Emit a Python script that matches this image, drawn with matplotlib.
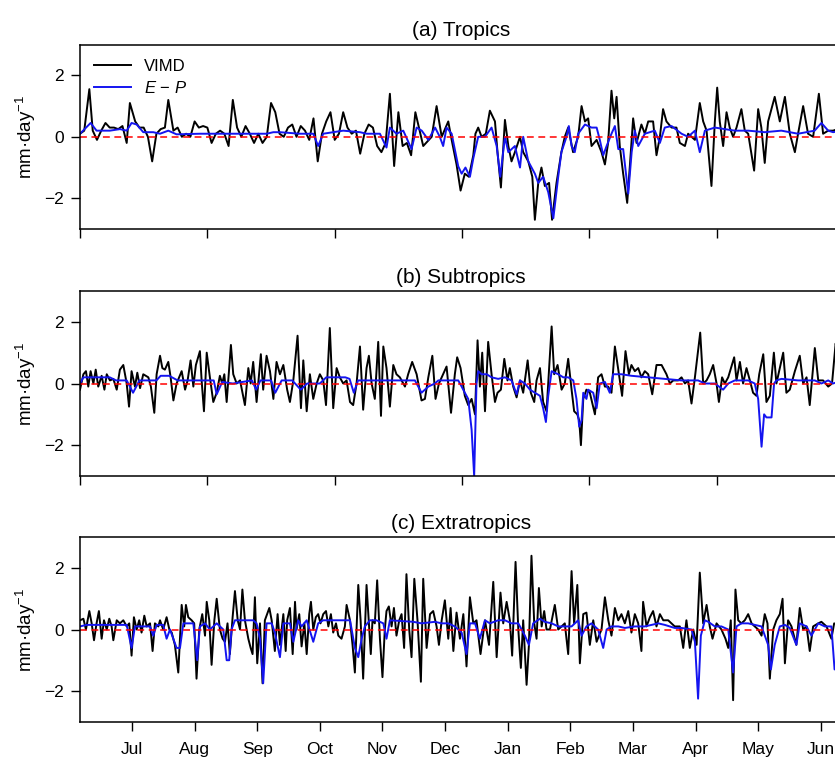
import numpy as np
import matplotlib
matplotlib.use("Agg")
import matplotlib.pyplot as plt

plt.rcParams["font.family"] = ["Liberation Sans", "DejaVu Sans"]
plt.rcParams["mathtext.fontset"] = "custom"
plt.rcParams["mathtext.rm"] = "Liberation Sans"
plt.rcParams["mathtext.it"] = "Liberation Sans:italic"

# (day, value) pairs, mm/day
trop_vimd = [
    (0, 0.1), (2, 0.2), (4.4, 1.55), (6, 0.2), (8, -0.1), (10, 0.2), (12, 0.45), (14, 0.3),
    (16, 0.3), (18, 0.25), (20, 0.35), (22, -0.2), (23.5, 1.1), (26, 0.5), (28, 0.3), (30, 0.3),
    (32, 0.0), (34, -0.8), (36, 0.1), (38, 0.25), (40, 0.3), (41.6, 1.2), (44, 0.2), (46, 0.3),
    (48, 0.0), (50, 0.1), (52, 0.0), (54, 0.5), (56, 0.3), (58, 0.35), (60, 0.3), (62, -0.2),
    (64, 0.1), (66, 0.2), (68, 0.1), (70, -0.3), (72, 1.2), (74, 0.3), (76, 0.0), (78, 0.35),
    (80, 0.1), (82, -0.2), (84, 0.1), (86, -0.2), (88, 0.0), (90, 1.1), (92, 0.8), (94, 0.1),
    (96, 0.0), (98, 0.3), (100, 0.4), (102, 0.0), (104, 0.35), (106, 0.2), (108, -0.1), (110, 0.6),
    (112, -0.8), (114, 0.1), (116, 0.5), (118, 0.8), (120, -0.1), (122, 0.1), (124, 0.8), (126, 0.3),
    (128, 0.1), (130, 0.2), (132, -0.55), (134, 0.1), (136, 0.4), (138, 0.3), (140, -0.3), (142, -0.5),
    (144, -0.2), (146, 1.4), (148, -0.95), (150, 0.8), (152, -0.3), (154, -0.2), (156, -0.6), (158, 0.8),
    (161.7, -0.3), (165.7, 0.0), (168, 1.0), (170.4, 0.0), (173.5, 0.5), (175.1, -0.1), (177.4, -0.9),
    (179.3, -1.75), (181.3, -1.2), (183.2, -1.3), (185.3, -0.6), (186.3, 0.1), (187.6, 0.3), (189.2, 0.0),
    (191.2, 0.1), (193.1, 0.85), (195.5, 0.5), (196.7, -0.5), (198.3, -1.65), (200.2, 0.55), (201.8, -0.3),
    (203.3, -0.8), (204.9, -0.5), (207.3, 0.0), (208.8, -0.5), (211.2, -0.8), (213.1, -1.3), (214.3, -2.7),
    (215.9, -1.5), (217.4, -1.0), (219, -1.6), (221, -1.5), (222.4, -2.7), (224.5, -1.5), (226.8, -0.5),
    (228.4, 0.0), (230, 0.3), (232.3, -0.5), (234.7, 0.0), (236.3, 1.0), (237.9, 0.5), (239.4, 0.6),
    (241, -0.3), (243.4, -0.1), (245.7, -0.5), (247.3, -0.9), (248.8, -0.2), (250.4, 1.5), (251.7, 0.6),
    (252.8, 1.3), (254.3, -0.3), (255.9, -1.2), (257.8, -2.15), (259, -1.0), (260.6, 0.6), (262.2, -0.2),
    (264.5, 0.4), (266.1, 0.1), (267.7, 0.5), (270, 0.5), (271.6, -0.6), (273.2, 0.0), (274.7, 0.9),
    (276.3, 0.5), (278.7, 0.3), (281, 0.3), (282.6, -0.2), (285, -0.3), (286.5, 0.1), (289.7, -0.1),
    (292, 1.1), (293.6, 0.5), (295.2, 0.2), (297.5, -1.6), (299.1, 0.5), (300.2, 1.6), (301.4, 0.5),
    (303, -0.3), (304.6, 0.8), (306.1, 0.3), (307.7, 0.0), (309.3, 0.3), (311.6, 0.9), (313.2, 0.2),
    (314.8, 0.1), (317.6, -1.1), (319.5, 0.9), (321, 0.3), (322.6, -0.85), (324.2, 0.5), (327.3, 1.3),
    (329.7, 0.5), (332.1, 1.3), (334.4, 0.1), (336.8, -0.5), (338.3, 0.1), (340.7, 1.0), (343, 0.1),
    (345.4, 0.0), (348.1, 1.4), (350.1, 0.1), (352.5, 0.2), (354.8, 0.2), (359, 0.3),
]
trop_ep = [
    (0, 0.1), (5, 0.45), (7.8, 0.2), (14.1, 0.2), (18.8, 0.25), (22, 0.2), (24.3, 0.45), (26.7, 0.4),
    (29.8, 0.15), (34.5, 0.15), (37.7, 0.1), (41.6, 0.2), (45.5, 0.08), (56.5, 0.1), (72.2, 0.1),
    (87.9, 0.1), (91.1, 0.15), (94.2, 0.15), (103.6, 0.1), (109.9, 0.1), (112.2, -0.3), (114.6, 0.1),
    (119.3, 0.15), (124, 0.2), (131.9, 0.15), (135, 0.1), (141.3, 0.1), (144.4, -0.35), (146, 0.3),
    (149.1, 0.1), (152.3, 0.2), (156.2, -0.4), (158.6, 0.3), (161, 0.2), (164.1, -0.1), (167.3, 0.3),
    (169.5, 0.0), (171.1, -0.3), (172.7, 0.3), (175.1, 0.1), (178.2, -0.96), (179.8, -1.2), (181.6, -1.0),
    (183.7, -1.3), (185.3, -0.7), (187.6, 0.0), (190.8, 0.0), (193.9, 0.3), (196.3, -0.3), (198, -1.3),
    (200.2, 0.0), (201.8, -0.5), (204.9, -0.3), (207.3, -1.0), (208.8, 0.0), (211.2, -0.8), (214.3, -1.2),
    (215.9, -1.5), (218.2, -1.3), (220.6, -1.8), (223, -2.65), (225.3, -1.3), (226.8, -0.5), (229.2, 0.0),
    (230.3, 0.35), (231.6, -0.3), (233.1, -0.5), (234.7, 0.1), (237.9, 0.4), (241, 0.3), (243.4, 0.3),
    (244.9, -0.1), (246.5, -0.6), (248.1, -0.3), (250.4, 0.1), (252, 0.35), (253.6, -0.4), (255.9, -0.4),
    (258.3, -1.85), (259.9, -0.5), (261.4, 0.2), (263, -0.3), (266.1, 0.1), (270.8, 0.2), (273.2, -0.2),
    (275.5, 0.3), (278.7, 0.35), (283.4, 0.1), (286.5, 0.0), (289.7, 0.2), (292, -0.5), (294.4, 0.2),
    (299.1, 0.3), (308.5, 0.2), (314.8, 0.2), (322.6, 0.15), (330.4, 0.2), (338.3, 0.1), (346.1, 0.2),
    (349.3, 0.45), (352.5, 0.2), (354.8, 0.15), (359, 0.2),
]

sub_vimd = [
    (0, -0.2), (1.6, 0.3), (2.8, 0.4), (3.9, -0.1), (5, 0.4), (6.3, 0.0), (7.4, 0.45), (8.6, -0.1),
    (10.2, 0.25), (11.5, -0.2), (12.6, 0.3), (14.1, 0.1), (15.7, 0.15), (17.3, -0.2), (18.8, 0.45),
    (20.4, 0.6), (22, 0.0), (23.1, -0.75), (24.3, 0.4), (25.9, -0.1), (27, 0.35), (28.3, -0.15),
    (29.8, 0.3), (32.2, 0.2), (33.4, -0.1), (35, -0.95), (36.1, 0.3), (37.7, 0.9), (38.8, 0.5),
    (40, 0.45), (41.6, 0.7), (42.7, 0.2), (44, -0.55), (45.5, 0.0), (47.9, 0.4), (49.5, -0.2),
    (50.7, 0.1), (52.1, 0.75), (53.4, -0.1), (54.6, 0.6), (56.5, 1.05), (57.3, 0.1), (58.4, -0.9),
    (59.7, 1.0), (61.2, 0.2), (62.8, -0.6), (64.4, -0.3), (65.9, 0.25), (67, 0.0), (68, 0.3),
    (69.1, -0.6), (71.1, 1.25), (72.2, 0.3), (73.8, 0.0), (75.4, 0.1), (77.7, -0.7), (79.3, 0.5),
    (80.4, 0.0), (81.6, 0.7), (83.2, -0.6), (85.2, 0.95), (86.3, -0.2), (87.9, 0.9), (89.5, 0.4),
    (91.1, -0.5), (92.6, 0.7), (94.2, 0.3), (95.8, 0.6), (97.6, -0.2), (98.9, -0.6), (100.5, 0.1),
    (102.5, 1.55), (104.1, -0.8), (105.2, 0.75), (106.8, -0.9), (108.3, 0.3), (109.9, -0.5),
    (111.5, 0.0), (113, 0.3), (114.6, 0.1), (115.9, -0.7), (117.7, 1.8), (119.3, -0.8), (120.9, 0.5),
    (122.4, 0.2), (124, 0.0), (125.6, 0.1), (127.2, -0.6), (128.7, -0.7), (130.3, 0.0), (131.9, 1.2),
    (133.4, -0.85), (135, 0.5), (136.1, 0.9), (137.4, 0.0), (138.9, -0.5), (140.5, 1.35), (141.8, -1.05),
    (142.9, 1.2), (144.4, 0.5), (146, -0.75), (147.6, 0.6), (149.1, 0.3), (150.7, 0.2), (153.1, -0.1),
    (154.6, 0.3), (156.5, 0.7), (158.6, 0.3), (160.9, -0.55), (162.5, -0.5), (164.1, 0.2), (166, 0.9),
    (167.5, -0.5), (169.1, 0.0), (170.4, 0.2), (172.7, 0.55), (174.8, -0.95), (176.6, 0.3), (177.7, 0.85),
    (179.3, 0.5), (181.3, -0.4), (182.9, -0.7), (184.5, -0.5), (186.1, -1.0), (187.3, 1.4), (188.4, -0.1),
    (189.5, 1.0), (190.8, -0.9), (192.3, 1.35), (193.9, 0.3), (195.5, -0.6), (196.7, -0.3), (198.3, -0.2),
    (199.9, 0.8), (201.4, 0.1), (202.5, 0.5), (204.1, -0.1), (205.7, -0.45), (207.3, 0.1), (208.8, -0.3),
    (210.9, 0.75), (212.4, -0.3), (214, -0.6), (215.1, 0.1), (216.7, 0.5), (218.2, -0.6), (219.8, -0.9),
    (220.6, 0.0), (222.2, 1.85), (223.4, 0.3), (225, 0.6), (226.9, -0.2), (228.4, 0.0), (230, 0.8),
    (231.6, -0.2), (232.8, -0.9), (234.3, -1.0), (235.2, -1.2), (236, -2.0), (237.1, -0.5), (238.6, -0.2),
    (240.2, -0.3), (242.6, -1.0), (244.1, 0.2), (245.7, 0.3), (247.3, -0.1), (248.8, -0.1), (250.4, -0.3),
    (252, 1.2), (253.9, 0.3), (255.4, -0.4), (257, 1.05), (258.6, 0.3), (259.8, 0.6), (261.4, 0.4),
    (263, 0.5), (264.5, 0.2), (266.1, 0.4), (267.7, 0.3), (269.6, -0.35), (271.6, 0.6), (274, 0.6),
    (276.3, 0.3), (277.9, 0.0), (279.5, 0.1), (281.8, 0.1), (283.4, 0.2), (285, 0.0), (286.5, 0.1),
    (288.1, -0.65), (289.7, 0.2), (292.2, 1.65), (293.6, 0.0), (295.2, 0.1), (296.7, 0.3), (298.3, 0.6),
    (299.9, 0.0), (301, -0.6), (302.5, 0.2), (303.8, 0.0), (305.4, 0.2), (308.2, 0.85), (309.3, 0.1),
    (310.9, 0.7), (312.4, 0.0), (314, 0.5), (315.6, 0.1), (317.1, -0.3), (318.7, -0.4), (320, 0.3),
    (321.9, 0.95), (323.4, -0.6), (325, -0.4), (326.9, 1.0), (328.1, 0.0), (329.7, 0.5), (331.3, 1.0),
    (332.8, -0.3), (334.4, -0.2), (336.8, 0.4), (339.1, 0.9), (340.7, 0.0), (342.3, 0.2), (343.8, -0.7),
    (346.2, 1.15), (347.8, 0.1), (350.1, 0.1), (352.5, -0.1), (354.3, 0.0), (356, 1.3), (359, 0.4),
]
sub_ep = [
    (0, 0.0), (1.6, 0.2), (14, 0.2), (17, 0.1), (22, 0.1), (25, -0.3), (28, 0.1), (36, 0.1),
    (38, 0.25), (42, 0.25), (46, 0.1), (63, 0.1), (64.4, -0.35), (67, 0.05), (72, 0.0), (81, 0.1),
    (83, -0.2), (85, 0.1), (90, 0.1), (92, -0.3), (95, 0.1), (100, 0.1), (104, -0.2), (107, 0.0),
    (113, 0.0), (116, 0.2), (125, 0.2), (127, 0.15), (129, -0.3), (131, 0.1), (157.8, 0.1),
    (160.9, -0.3), (164.1, -0.1), (167.2, 0.0), (168.8, 0.1), (178.2, 0.1), (179.8, -0.1), (181.3, -0.3),
    (182.9, -0.5), (184.5, -1.5), (185.7, -3.0), (186.8, 0.0), (187.6, 0.4), (189.2, 0.3), (191.6, 0.3),
    (193.9, 0.2), (197, 0.15), (200.2, 0.2), (203.3, 0.1), (205.7, -0.35), (207.3, 0.1), (209.6, 0.0),
    (212, -0.2), (214.3, -0.3), (216.7, -0.4), (218.2, -0.8), (219.5, -1.25), (220.6, -0.4), (222.2, 0.4),
    (223.7, 0.35), (225.3, 0.3), (227.7, 0.2), (230, 0.2), (232.4, 0.1), (233.9, -0.5), (235.2, -1.4),
    (236.3, -1.2), (237.1, -0.3), (238.6, -0.5), (239.4, -0.2), (241.8, -0.3), (243.4, -0.8), (244.9, 0.0),
    (247.3, 0.05), (249.6, -0.3), (251.2, 0.3), (255.1, 0.3), (259.8, 0.25), (267.7, 0.2), (275.5, 0.15),
    (283.4, 0.1), (291.2, 0.1), (294.4, 0.0), (299.1, 0.0), (303, -0.2), (305.4, 0.0), (308.5, 0.1),
    (314.8, 0.1), (317.9, 0.0), (319.5, -0.5), (321.1, -2.05), (322.3, -1.0), (323.4, -1.1), (325.8, -1.1),
    (327, 0.0), (328.1, 0.1), (330.5, 0.15), (338.3, 0.1), (346.2, 0.1), (349.3, 0.0), (352.5, 0.1),
    (354.8, 0.0), (359, 0.1),
]

extra_vimd = [
    (0, 0.3), (1.6, 0.35), (2.8, 0.0), (4.4, 0.6), (5.5, 0.2), (6.6, -0.35), (7.8, 0.2), (8.9, 0.6),
    (10.2, -0.3), (11.3, 0.3), (12.6, 0.0), (13.8, 0.35), (14.9, 0.1), (15.7, -0.35), (17.3, 0.3),
    (18.8, 0.2), (20.4, 0.3), (22, 0.1), (23.2, 0.2), (24.3, -0.85), (25.4, 0.4), (26.7, 0.0),
    (27.9, 0.3), (29, -0.1), (30.3, 0.45), (31.4, 0.1), (33, 0.2), (34.2, -0.7), (35.3, 0.2),
    (36.9, 0.1), (37.7, 0.3), (39.2, 0.0), (40.8, 0.4), (42.1, 0.0), (43.2, -0.1), (44.7, -0.5),
    (46.3, -1.4), (47.9, 0.8), (49.1, 0.1), (49.9, 0.8), (51, 0.4), (52.6, 0.3), (53.8, 0.2),
    (54.9, -1.6), (56.2, 0.0), (57.6, 0.5), (58.9, -0.2), (59.7, 0.9), (60.9, 0.3), (62, -1.15),
    (63.3, 0.3), (64.4, 1.0), (65.9, 0.0), (67.2, -0.3), (68.3, -0.4), (69.5, 0.2), (70.6, -0.8),
    (71.9, 0.4), (73, 1.25), (74.3, 0.3), (75.4, 0.0), (76.5, 1.3), (77.7, 0.3), (79.3, -0.3),
    (80.4, -0.6), (81.3, -0.8), (82.4, 1.05), (83.5, -1.1), (84.8, 0.2), (86, -1.75), (87.1, 0.3),
    (89.2, 0.7), (90.3, 0.3), (91.8, -0.7), (93.1, 0.5), (94.2, -0.5), (95.8, 0.5), (96.9, -0.7),
    (97.6, 0.3), (98.9, 0.7), (100.2, -0.8), (101.3, 0.9), (102, 0.0), (103.3, 0.5), (104.4, -0.55),
    (105.7, 0.2), (106.8, -0.8), (108, 0.5), (108.8, 0.9), (109.9, 0.0), (111.1, 0.4), (112.2, 0.5),
    (113.3, 0.2), (114.6, 0.5), (115.9, 0.6), (117, 0.1), (118.2, 0.5), (119.3, -0.1), (120.6, 0.2),
    (121.7, -0.2), (123.2, -0.3), (124.8, 0.1), (125.6, 0.8), (127.2, 0.3), (128.4, -0.5), (129.5, -1.4),
    (131.1, 1.45), (132.2, 0.3), (133.4, -1.6), (135, 1.45), (136.3, 0.0), (137, -0.8), (137.8, 0.3),
    (138.9, 0.2), (140, 1.6), (141.3, -0.3), (142.5, -1.55), (143.6, 0.0), (144.4, 0.6), (145.5, 0.75),
    (146.8, 0.1), (147.9, 0.7), (149.1, -0.2), (150.4, 0.3), (151.5, 0.5), (152.7, -0.6), (153.8, 1.8),
    (155.1, 0.0), (156.2, -0.9), (157.5, 1.65), (159, 0.3), (160.6, -1.7), (161.7, 1.65), (163.3, -0.6),
    (164.9, 0.5), (166.4, 0.6), (168, 0.1), (169.1, -0.5), (170.4, 0.3), (171.9, 0.95), (173.5, -0.3),
    (174.6, 0.7), (175.9, -0.7), (177.4, 0.55), (179, -0.3), (180.6, 0.5), (182.1, -1.2), (183.7, 1.05),
    (185.3, 0.2), (186.8, 0.3), (188.7, -0.8), (190.8, 0.3), (192.7, -0.5), (194.7, 1.55), (196.3, -0.9),
    (198.1, 1.2), (199.4, 0.2), (201, 0.9), (202.5, 0.3), (203.6, -0.85), (205.2, 2.2), (206.5, 0.0),
    (207.7, -1.25), (208.8, 0.3), (210.4, -1.8), (211.5, -0.5), (212.7, 2.4), (214, 0.2), (215.1, -0.3),
    (216.2, 1.35), (217.5, 0.1), (218.7, 0.6), (219.8, 0.0), (221.4, 0.0), (223.7, 0.8), (225.3, 0.0),
    (226.9, 0.1), (228.4, 0.2), (230, -0.8), (231.6, 1.9), (232.8, 0.2), (234.3, 1.45), (235.5, -1.1),
    (237.1, 0.5), (238.6, 0.55), (240.2, -0.5), (241.8, 0.3), (243.4, -0.4), (244.5, -0.2), (245.7, 0.0),
    (247.3, 1.05), (248.9, 0.3), (250.4, -0.2), (252, 0.7), (253.6, 0.3), (255.1, 0.5), (256.7, 0.2),
    (258.3, 0.6), (259.8, -0.1), (261.4, 0.5), (263, 0.2), (264.5, -0.7), (265.3, 0.9), (266.9, 0.1),
    (268.5, 0.4), (270, 0.6), (271.6, 0.1), (273.2, 0.5), (274.8, 0.3), (277.1, 0.3), (280.2, 0.1),
    (282.6, 0.1), (284.2, -0.6), (285.7, 0.3), (287.3, -0.6), (288.9, 0.0), (290.5, -0.5), (292, 1.85),
    (293.6, 0.2), (295.2, 0.8), (296.7, 0.1), (298, -0.3), (299.9, 0.2), (302.2, 0.0), (304.1, -0.3),
    (305.4, -0.6), (306.6, 0.3), (307.7, -2.3), (308.8, 1.3), (310.1, 0.3), (311.6, 0.2), (313.2, 0.3),
    (314.8, 0.5), (316.4, 0.2), (317.9, 0.1), (319.5, 0.0), (321.1, -0.2), (322.6, 0.5), (323.9, 0.2),
    (325, -1.6), (326.6, 0.0), (328.1, 0.3), (329.7, 0.5), (331, 1.0), (332.1, -1.1), (333.6, 0.3),
    (335.2, 0.1), (337.5, -0.5), (339.1, 0.7), (340.7, 0.0), (342.3, 0.1), (343.8, -0.7), (345.4, 0.1),
    (347.8, 0.2), (349.3, 0.25), (351.7, 0.1), (354, -0.3), (355.3, 0.2), (359, 0.1),
]
extra_ep = [
    (0, 0.1), (3.1, 0.15), (22, 0.15), (24.3, -0.6), (25.9, 0.1), (33, 0.1), (34.5, -0.2), (36.1, 0.15),
    (39.2, 0.15), (40.8, -0.3), (42.4, 0.0), (45.5, -0.6), (47.1, -0.6), (48.7, 0.2), (53.4, 0.2),
    (55.2, -1.0), (56.5, 0.1), (58.9, 0.2), (61.2, 0.0), (64.4, 0.2), (67.5, 0.0), (69.1, -1.0),
    (70.3, -1.0), (71.4, 0.0), (73, 0.3), (81.6, 0.3), (83.2, 0.2), (84.8, -0.3), (86.3, -1.75),
    (87.9, 0.2), (90.3, 0.2), (91.8, -0.1), (94.2, -0.9), (95.8, 0.2), (98.9, 0.2), (100.5, -0.4),
    (102.8, 0.3), (104.4, 0.1), (106.8, 0.3), (109.9, -0.4), (112.2, 0.2), (114.6, 0.3), (127.2, 0.3),
    (128, 0.0), (129.5, -0.6), (131.1, -0.9), (132.7, -0.3), (134.2, 0.1), (136.6, 0.3), (139.7, 0.3),
    (142.9, 0.2), (144.4, -0.3), (146, 0.3), (157, 0.25), (160.9, 0.2), (167.2, 0.25), (170.4, 0.2),
    (173.5, 0.2), (176.6, 0.1), (179.8, -0.1), (182.1, -0.8), (183.7, 0.2), (186.1, 0.2), (188.4, -0.3),
    (190.8, 0.3), (193.1, 0.2), (197, 0.3), (200.2, 0.3), (203.3, 0.2), (206.5, 0.2), (209.6, -0.2),
    (211.5, -0.5), (213.5, 0.2), (216.7, 0.35), (219, 0.25), (222.2, 0.2), (225.3, 0.1), (228.4, 0.1),
    (231.6, 0.1), (234.7, 0.3), (236.3, -0.2), (238.6, 0.1), (241, 0.2), (244.1, 0.0), (246.5, -0.6),
    (248.1, 0.0), (250.4, 0.1), (253.6, 0.1), (256.7, 0.05), (261.4, 0.1), (266.1, 0.1), (269.3, 0.15),
    (272.4, 0.2), (275.5, 0.15), (280.2, 0.05), (283.4, 0.05), (288.1, 0.0), (289.7, -0.4), (291.2, -2.25),
    (292.5, -0.2), (294.4, 0.3), (296, 0.25), (299.1, 0.1), (302.2, 0.1), (305.4, 0.0), (307.7, -1.4),
    (309.3, 0.1), (311.6, 0.2), (314.8, 0.2), (317.9, 0.15), (321.1, 0.1), (324.2, -0.5), (325.5, -1.3),
    (327.3, -0.5), (329.7, 0.1), (332.1, 0.15), (334.4, 0.05), (337.5, -0.5), (339.1, 0.2), (342.3, 0.1),
    (344.6, -0.2), (347.8, 0.2), (350.9, 0.1), (354, 0.1), (355.5, -1.3), (359, -1.0),
]

titles = ["(a) Tropics", "(b) Subtropics", "(c) Extratropics"]
month_labels = ["Jul", "Aug", "Sep", "Oct", "Nov", "Dec", "Jan", "Feb", "Mar", "Apr", "May", "Jun"]
panels = [(trop_vimd, trop_ep), (sub_vimd, sub_ep), (extra_vimd, extra_ep)]

W, H = 835, 757
fig = plt.figure(figsize=(W / 100, H / 100), dpi=100)

# axes boxes in pixels (left, top, right, bottom); right edge runs off the figure
boxes = [(80, 44.6, 842, 229), (80, 291, 842, 476), (80, 537.3, 842, 721.7)]

for i, ((vimd, ep), title) in enumerate(zip(panels, titles)):
    l, t, r, b = boxes[i]
    ax = fig.add_axes([l / W, 1 - b / H, (r - l) / W, (b - t) / H])
    vx, vy = np.array(vimd).T
    ex, ey = np.array(ep).T
    ax.plot(vx, vy, color="black", lw=1.4, label="VIMD")
    ax.plot(ex, ey, color="#1414f0", lw=1.4, label="$E$ \u2212 $P$")
    ax.axhline(0, color="red", ls="--", lw=1.1, dashes=(4.5, 3))
    ax.set_xlim(0, 359)
    ax.set_ylim(-3, 3)
    ax.set_yticks([-2, 0, 2])
    ax.set_yticklabels(["\u22122", "0", "2"])
    ax.set_title(title, fontsize=15, pad=6)
    ax.set_ylabel("mm\u00b7day$^{-1}$", fontsize=13.5)
    ax.yaxis.set_label_coords(-0.055, 0.5)
    for s in ax.spines.values():
        s.set_linewidth(1.1)
    ax.tick_params(direction="out", length=6.5, width=1, labelsize=12.5)
    ax.tick_params(axis="y", pad=5)
    if i < 2:
        ax.set_xticks(np.arange(0, 360, 60))
        ax.set_xticklabels([])
    else:
        ax.set_xticks(24.5 + 29.5 * np.arange(len(month_labels)))
        ax.set_xticklabels(month_labels)
        ax.tick_params(axis="x", pad=8)
    if i == 0:
        ax.legend(loc="upper left", frameon=False, fontsize=12, handlelength=2.2,
                  borderaxespad=0.45, labelspacing=0.35, bbox_to_anchor=(0.0, 1.0))

fig.savefig("out.png", dpi=100)
